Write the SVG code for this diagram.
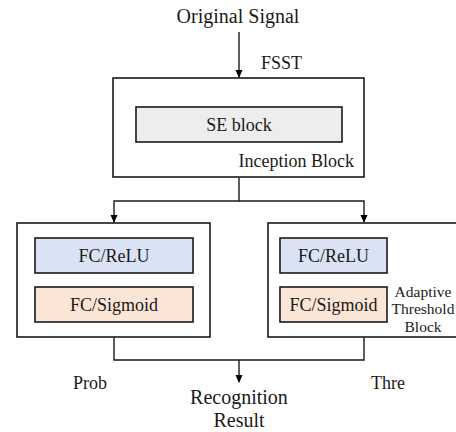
<svg xmlns="http://www.w3.org/2000/svg" width="456" height="432" viewBox="0 0 456 432">
<defs>
<marker id="arr" markerWidth="8" markerHeight="8" refX="7" refY="4" orient="auto" markerUnits="userSpaceOnUse">
<path d="M0,0.5 L8,4 L0,7.5 Z" fill="#000"/>
</marker>
</defs>
<style>
text{font-family:"Liberation Serif","Times New Roman",serif;fill:#1a1a1a;}
.t18{font-size:18px;}
.t20{font-size:20px;}
.t15{font-size:15.5px;}
.box{fill:#fff;stroke:#1a1a1a;stroke-width:1.6;}
.se{fill:#ededed;stroke:#1a1a1a;stroke-width:1.6;}
.relu{fill:#dae3f3;stroke:#1a1a1a;stroke-width:1.6;}
.sig{fill:#fbe5d6;stroke:#1a1a1a;stroke-width:1.6;}
.ln{fill:none;stroke:#1a1a1a;stroke-width:1.4;}
</style>
<rect width="456" height="432" fill="#fff"/>
<g id="connectors">
<line class="ln" x1="239" y1="32" x2="239" y2="77" marker-end="url(#arr)"/>
<polyline class="ln" points="239,178 239,201 114,201 114,222" marker-end="url(#arr)"/>
<polyline class="ln" points="239,201 364,201 364,222" marker-end="url(#arr)"/>
<polyline class="ln" points="114,337 114,360 364,360 364,337"/>
<line class="ln" x1="239" y1="360" x2="239" y2="382" marker-end="url(#arr)"/>
<text class="t18" x="261" y="69">FSST</text>
<text class="t18" x="90" y="389" text-anchor="middle">Prob</text>
<text class="t18" x="388" y="389" text-anchor="middle">Thre</text>
</g>
<g id="original-signal">
<text class="t20" x="238" y="23" text-anchor="middle">Original Signal</text>
</g>
<g id="inception-block">
<rect class="box" x="113" y="78" width="251" height="99"/>
<text class="t18" x="354" y="167" text-anchor="end">Inception Block</text>
</g>
<g id="se-block">
<rect class="se" x="136" y="107" width="206" height="35"/>
<text class="t18" x="239" y="131" text-anchor="middle">SE block</text>
</g>
<g id="prob-block">
<rect class="box" x="17" y="223" width="193" height="114"/>
</g>
<g id="fc-relu-left">
<rect class="relu" x="35" y="238" width="158" height="35"/>
<text class="t18" x="114" y="262" text-anchor="middle">FC/ReLU</text>
</g>
<g id="fc-sigmoid-left">
<rect class="sig" x="35" y="287" width="158" height="35"/>
<text class="t18" x="114" y="311" text-anchor="middle">FC/Sigmoid</text>
</g>
<g id="adaptive-threshold-block">
<rect class="box" x="268" y="223" width="195" height="114"/>
<text class="t15" x="423" y="297" text-anchor="middle">Adaptive</text>
<text class="t15" x="423" y="314" text-anchor="middle">Threshold</text>
<text class="t15" x="423" y="332" text-anchor="middle">Block</text>
</g>
<g id="fc-relu-right">
<rect class="relu" x="280" y="238" width="107" height="35"/>
<text class="t18" x="333.5" y="262" text-anchor="middle">FC/ReLU</text>
</g>
<g id="fc-sigmoid-right">
<rect class="sig" x="280" y="287" width="107" height="35"/>
<text class="t18" x="333.5" y="311" text-anchor="middle">FC/Sigmoid</text>
</g>
<g id="recognition-result">
<text class="t20" x="239" y="404" text-anchor="middle">Recognition</text>
<text class="t20" x="239" y="427" text-anchor="middle">Result</text>
</g>
</svg>
